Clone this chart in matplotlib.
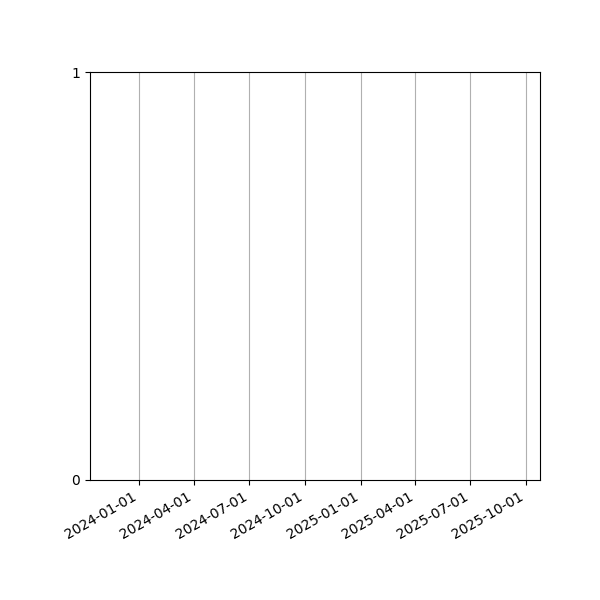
import matplotlib
matplotlib.use('Agg')
import matplotlib.pyplot as plt
import matplotlib.dates as mdates
import numpy as np

# visible date window and y range (empty chart)
date_range = ['2023-10-12', '2025-10-24']
y_ticks = [0, 1]

fig, ax = plt.subplots(figsize=(6, 6), dpi=100)
fig.subplots_adjust(left=0.15, right=0.9, top=0.88, bottom=0.2)

start, end = [np.datetime64(d) for d in date_range]
ax.set_xlim(mdates.date2num(start), mdates.date2num(end))
ax.xaxis.set_major_locator(mdates.MonthLocator(bymonth=[1, 4, 7, 10]))
ax.xaxis.set_major_formatter(mdates.DateFormatter('%Y-%m-%d'))
ax.set_ylim(y_ticks[0], y_ticks[-1])
ax.set_yticks(y_ticks)
ax.grid(True, axis='x')

for lbl in ax.get_xticklabels():
    lbl.set_rotation(30)
    lbl.set_ha('right')

fig.savefig('out.png')
